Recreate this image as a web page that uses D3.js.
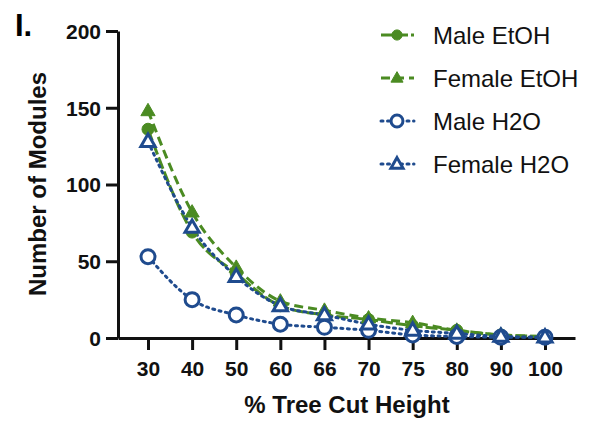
<!DOCTYPE html>
<html>
<head>
<meta charset="utf-8">
<script src="https://cdn.jsdelivr.net/npm/d3@7/dist/d3.min.js"></script>
<style>
  body { margin: 0; background: #fff; }
  svg { font-family: "Liberation Sans", Arial, sans-serif; }
</style>
</head>
<body>
<script>
// tree cut heights (x categories)
var cutHeights = ["30", "40", "50", "60", "66", "70", "75", "80", "90", "100"];
var yTicks = [0, 50, 100, 150, 200];

// module counts
var maleEtOH   = [136, 69, 42, 21, 15, 12, 8, 5, 2, 1];
var femaleEtOH = [148, 82, 46, 24, 18, 13, 10, 5, 2, 1];
var maleH2O    = [53, 25, 15, 9, 7, 5, 2, 1, 0.5, 0.5];
var femaleH2O  = [128, 72, 40, 21, 15, 9, 5, 3, 1, 0.5];

var green = "#4b8b22", blue = "#1f4b8e";

var series = [
  { name: "Male EtOH", values: maleEtOH, color: green, dash: "12,3", shape: "circle", filled: true },
  { name: "Female EtOH", values: femaleEtOH, color: green, dash: "9,5", shape: "triangle", filled: true },
  { name: "Male H2O", values: maleH2O, color: blue, dash: "2,4.5", shape: "circle", filled: false },
  { name: "Female H2O", values: femaleH2O, color: blue, dash: "2,4.5", shape: "triangle", filled: false }
];

var svg = d3.select("body").append("svg")
  .attr("width", 590).attr("height", 425);

var x = d3.scalePoint().domain(cutHeights).range([118, 575]).padding(0.68);
var y = d3.scaleLinear().domain([0, 200]).range([338, 31]);

// axes
var xAxis = svg.append("g")
  .attr("transform", "translate(0,338)")
  .call(d3.axisBottom(x).tickSize(12).tickSizeOuter(0).tickPadding(8));
var yAxis = svg.append("g")
  .attr("transform", "translate(118,0)")
  .call(d3.axisLeft(y).tickValues(yTicks).tickSize(12).tickSizeOuter(0).tickPadding(5));

[xAxis, yAxis].forEach(function (g) {
  g.selectAll("path.domain").attr("stroke", "#111").attr("stroke-width", 3);
  g.selectAll(".tick line").attr("stroke", "#111").attr("stroke-width", 3);
  g.selectAll(".tick text")
    .attr("fill", "#111")
    .style("font-size", "21px")
    .style("font-weight", "bold")
    .style("font-family", "'Liberation Sans', Arial, sans-serif");
});
xAxis.selectAll(".tick text").attr("dy", "0.85em");
yAxis.selectAll(".tick text").attr("dy", "0.35em");

// axis titles
svg.append("text")
  .attr("x", 347).attr("y", 413)
  .attr("text-anchor", "middle")
  .attr("fill", "#111")
  .style("font-size", "24px").style("font-weight", "bold")
  .text("% Tree Cut Height");

svg.append("text")
  .attr("transform", "translate(46,184) rotate(-90)")
  .attr("text-anchor", "middle")
  .attr("fill", "#111")
  .style("font-size", "24px").style("font-weight", "bold")
  .text("Number of Modules");

svg.append("text")
  .attr("x", 15).attr("y", 36)
  .style("font-size", "31px").style("font-weight", "bold")
  .text("I.");

var lineFunction = d3.line()
  .x(function (d, i) { return x(cutHeights[i]); })
  .y(function (d) { return y(d); })
  .curve(d3.curveMonotoneX);

function drawMarker(g, s, cx, cy, scale) {
  var sw = s.filled ? 1 : 3;
  if (s.shape === "circle") {
    g.append("circle")
      .attr("cx", cx).attr("cy", cy)
      .attr("r", (s.filled ? 6 : 7) * scale)
      .attr("fill", s.filled ? s.color : "#fff")
      .attr("stroke", s.color).attr("stroke-width", sw);
  } else {
    var r = 7.5 * scale;
    var pts = [[cx, cy - r], [cx + r * 0.95, cy + r * 0.65], [cx - r * 0.95, cy + r * 0.65]];
    g.append("path")
      .attr("d", "M" + pts.join("L") + "Z")
      .attr("fill", s.filled ? s.color : "#fff")
      .attr("stroke", s.color).attr("stroke-width", sw)
      .attr("stroke-linejoin", "miter");
  }
}

// lines (drawn first), then markers
series.forEach(function (s) {
  svg.append("path")
    .attr("d", lineFunction(s.values))
    .attr("fill", "none")
    .attr("stroke", s.color)
    .attr("stroke-width", 3)
    .attr("stroke-dasharray", s.dash)
    .attr("stroke-linecap", s.filled ? "butt" : "round");
});
series.forEach(function (s) {
  var g = svg.append("g");
  s.values.forEach(function (v, i) {
    drawMarker(g, s, x(cutHeights[i]), y(v), 1);
  });
});

// legend
var legend = svg.append("g");
series.forEach(function (s, i) {
  var ly = 35 + i * 43;
  legend.append("line")
    .attr("x1", 381).attr("x2", 414)
    .attr("y1", ly).attr("y2", ly)
    .attr("stroke", s.color).attr("stroke-width", 3)
    .attr("stroke-dasharray", s.dash)
    .attr("stroke-linecap", s.filled ? "butt" : "round");
  drawMarker(legend, s, 397, ly, 0.85);
  legend.append("text")
    .attr("x", 433).attr("y", ly)
    .attr("dy", "0.36em")
    .attr("fill", "#111")
    .style("font-size", "24px")
    .text(s.name);
});
</script>
</body>
</html>
